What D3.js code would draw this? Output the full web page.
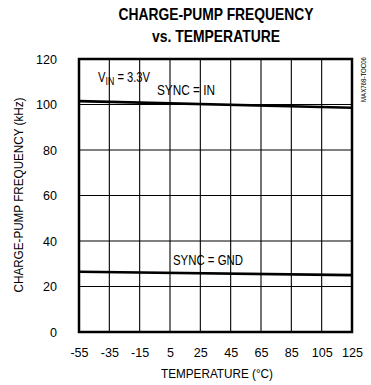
<!DOCTYPE html>
<html>
<head>
<meta charset="utf-8">
<script src="https://cdn.jsdelivr.net/npm/d3@7"></script>
<style>
  body { margin: 0; background: #fff; }
  svg text { font-family: "Liberation Sans", Arial, sans-serif; fill: #000; }
</style>
</head>
<body>
<div id="chart"></div>
<script>
'use strict';

// data
var temps = [-55, 125];
var syncIn = [101.5, 98.6];
var syncGnd = [26.5, 25.0];
var xTicks = [-55, -35, -15, 5, 25, 45, 65, 85, 105, 125];
var yTicks = [0, 20, 40, 60, 80, 100, 120];

var width = 371;
var height = 385;
var margin = {top: 59, right: 19, bottom: 53, left: 79};
var w = width - margin.left - margin.right;
var h = height - margin.top - margin.bottom;

// squeeze text to look like a condensed face
function narrow(sel, k){
	sel.each(function(){
		var len = this.getComputedTextLength();
		d3.select(this)
			.attr('textLength', len * k)
			.attr('lengthAdjust', 'spacingAndGlyphs');
	});
}

var svg = d3.select('#chart').append('svg')
	.attr('width', width)
	.attr('height', height);

var x = d3.scaleLinear().domain([-55, 125]).range([0, w]);
var y = d3.scaleLinear().domain([0, 120]).range([h, 0]);

// title
svg.append('text')
	.attr('x', 216).attr('y', 20)
	.attr('text-anchor', 'middle')
	.style('font-weight', 'bold')
	.style('font-size', '16.5px')
	.attr('textLength', 195).attr('lengthAdjust', 'spacingAndGlyphs')
	.text('CHARGE-PUMP FREQUENCY');
svg.append('text')
	.attr('x', 216).attr('y', 42)
	.attr('text-anchor', 'middle')
	.style('font-weight', 'bold')
	.style('font-size', '16.5px')
	.attr('textLength', 128).attr('lengthAdjust', 'spacingAndGlyphs')
	.text('vs. TEMPERATURE');

var g = svg.append('g')
	.attr('transform', 'translate(' + margin.left + ',' + margin.top + ')');

// grid
g.selectAll('.vgrid').data(xTicks.filter(function(d, i){ return i > 0 && i < xTicks.length - 1; }))
	.enter().append('line')
	.attr('x1', function(d){ return x(d); })
	.attr('x2', function(d){ return x(d); })
	.attr('y1', 0).attr('y2', h)
	.style('stroke', '#000').style('stroke-width', 1.1);

g.selectAll('.hgrid').data(yTicks.filter(function(d, i){ return i > 0 && i < yTicks.length - 1; }))
	.enter().append('line')
	.attr('x1', 0).attr('x2', w)
	.attr('y1', function(d){ return y(d); })
	.attr('y2', function(d){ return y(d); })
	.style('stroke', '#000').style('stroke-width', 1.1);

// frame
g.append('rect')
	.attr('width', w).attr('height', h)
	.style('fill', 'none')
	.style('stroke', '#000')
	.style('stroke-width', 2.5);

// tick labels
var xAxis = g.append('g')
	.attr('transform', 'translate(0,' + h + ')')
	.call(d3.axisBottom(x).tickValues(xTicks).tickFormat(function(d){ return String(d); })
		.tickSize(0).tickPadding(15));
var yAxis = g.append('g')
	.call(d3.axisLeft(y).tickValues(yTicks).tickFormat(function(d){ return String(d); })
		.tickSize(0).tickPadding(22));
[xAxis, yAxis].forEach(function(a){
	a.select('.domain').remove();
	a.selectAll('text')
		.style('font-family', '"Liberation Sans", sans-serif')
		.style('font-size', '13.5px')
		.call(narrow, 0.93);
});

// series
var line = d3.line()
	.x(function(d, i){ return x(temps[i]); })
	.y(function(d){ return y(d); });

[syncIn, syncGnd].forEach(function(s){
	g.append('path')
		.attr('d', line(s))
		.style('fill', 'none')
		.style('stroke', '#000')
		.style('stroke-width', 2.6);
});

// annotations
var vin = g.append('text')
	.attr('transform', 'translate(19,23) scale(0.8,1)')
	.style('font-size', '14px');
vin.append('tspan').text('V');
vin.append('tspan').attr('dy', 3).style('font-size', '11px').text('IN');
vin.append('tspan').attr('dy', -3).text(' = 3.3V');

g.append('text')
	.attr('x', 78).attr('y', 36)
	.style('font-size', '14px')
	.attr('textLength', 58).attr('lengthAdjust', 'spacingAndGlyphs')
	.text('SYNC = IN');

g.append('text')
	.attr('x', 94).attr('y', 206)
	.style('font-size', '14px')
	.attr('textLength', 70).attr('lengthAdjust', 'spacingAndGlyphs')
	.text('SYNC = GND');

// axis titles
svg.append('text')
	.attr('x', 217).attr('y', 378)
	.attr('text-anchor', 'middle')
	.style('font-size', '13.5px')
	.attr('textLength', 112).attr('lengthAdjust', 'spacingAndGlyphs')
	.text('TEMPERATURE (°C)');

svg.append('text')
	.attr('transform', 'translate(23,195) rotate(-90)')
	.attr('text-anchor', 'middle')
	.style('font-size', '13.5px')
	.attr('textLength', 195).attr('lengthAdjust', 'spacingAndGlyphs')
	.text('CHARGE-PUMP FREQUENCY (kHz)');

// part code
svg.append('text')
	.attr('transform', 'translate(366,102) rotate(-90)')
	.style('font-size', '7px')
	.attr('textLength', 45).attr('lengthAdjust', 'spacingAndGlyphs')
	.text('MAX768-TOC06');
</script>
</body>
</html>
